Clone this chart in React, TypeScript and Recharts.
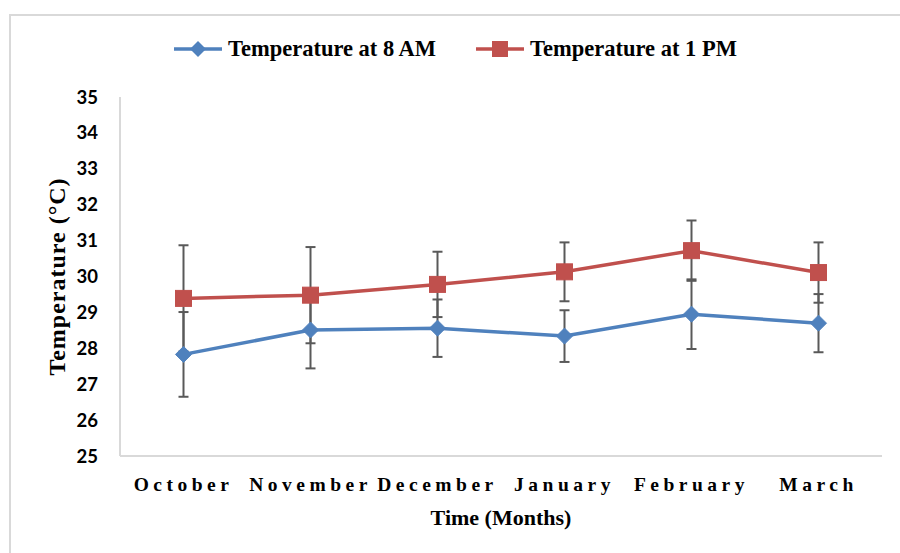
import React from 'react';
import { LineChart, Line, XAxis, YAxis, ErrorBar } from 'recharts';

const months = ['October', 'November', 'December', 'January', 'February', 'March'];
const temp8am = [27.83, 28.51, 28.56, 28.34, 28.95, 28.70];
const err8am = [1.18, 1.07, 0.8, 0.72, 0.97, 0.81];
const temp1pm = [29.39, 29.48, 29.78, 30.13, 30.72, 30.11];
const err1pm = [1.48, 1.34, 0.91, 0.82, 0.84, 0.84];
const yTicks = [25, 26, 27, 28, 29, 30, 31, 32, 33, 34, 35];

const BLUE = '#4f81bd';
const RED = '#c0504d';
const SERIF = '"Liberation Serif", "Times New Roman", serif';

const data = months.map((m, i) => ({
  month: m,
  am: temp8am[i],
  amErr: err8am[i],
  pm: temp1pm[i],
  pmErr: err1pm[i],
}));

const Diamond = (props: any) => {
  const { cx, cy } = props;
  if (cx == null || cy == null) return null;
  const r = 8;
  return (
    <polygon
      points={`${cx},${cy - r} ${cx + r},${cy} ${cx},${cy + r} ${cx - r},${cy}`}
      fill={BLUE}
      stroke={BLUE}
    />
  );
};

const Square = (props: any) => {
  const { cx, cy } = props;
  if (cx == null || cy == null) return null;
  const s = 16;
  return <rect x={cx - s / 2} y={cy - s / 2} width={s} height={s} fill={RED} stroke={RED} />;
};

const LegendContent = () => {
  const items = [
    { label: 'Temperature at 8 AM', color: BLUE, shape: 'diamond' },
    { label: 'Temperature at 1 PM', color: RED, shape: 'square' },
  ];
  return (
    <div style={{ display: 'flex', alignItems: 'center', paddingLeft: 174 }}>
      {items.map((it, i) => (
        <div key={it.label} style={{ display: 'flex', alignItems: 'center', marginRight: i === 0 ? 40 : 0 }}>
          <svg width={48} height={20}>
            <line x1={0} y1={10} x2={48} y2={10} stroke={it.color} strokeWidth={3.5} />
            {it.shape === 'diamond' ? (
              <polygon points="24,2 32,10 24,18 16,10" fill={it.color} />
            ) : (
              <rect x={16} y={2} width={16} height={16} fill={it.color} />
            )}
          </svg>
          <span
            style={{
              fontFamily: SERIF,
              fontWeight: 'bold',
              fontSize: 22.5,
              color: '#000',
              marginLeft: 6,
              whiteSpace: 'nowrap',
            }}
          >
            {it.label}
          </span>
        </div>
      ))}
    </div>
  );
};

export default function App() {
  return (
    <div style={{ position: 'absolute', left: 0, top: 0, width: 900, height: 553, background: '#fff' }}>
      <div
        style={{
          position: 'absolute',
          left: 9,
          top: 14,
          width: 900,
          height: 553,
          borderLeft: '2px solid #d9d9d9',
          borderTop: '2px solid #d9d9d9',
        }}
      />
      <div style={{ position: 'absolute', left: 0, top: 36, width: 900 }}>
        <LegendContent />
      </div>
      <div style={{ position: 'absolute', left: 0, top: 0 }}>
        <LineChart width={900} height={553} data={data} margin={{ top: 97, right: 18, bottom: 0, left: 0 }}>
          <XAxis
            dataKey="month"
            height={97}
            interval={0}
            padding={{ left: 63.5, right: 63.5 }}
            axisLine={{ stroke: '#d9d9d9', strokeWidth: 2 }}
            tickLine={false}
            tickSize={0}
            tickMargin={21}
            tick={{ fontFamily: SERIF, fontSize: 19.5, fontWeight: 'bold', fill: '#000', letterSpacing: 4.5 }}
            label={{
              content: (p: any) => {
                const vb = p.viewBox;
                return (
                  <text
                    x={vb.x + vb.width / 2}
                    y={vb.y + 69}
                    textAnchor="middle"
                    fontFamily={SERIF}
                    fontWeight="bold"
                    fontSize={22}
                    fill="#000"
                  >
                    Time (Months)
                  </text>
                );
              },
            }}
          />
          <YAxis
            width={120}
            domain={[25, 35]}
            ticks={yTicks}
            interval={0}
            axisLine={{ stroke: '#d9d9d9', strokeWidth: 2 }}
            tickLine={false}
            tickSize={0}
            tickMargin={22}
            tick={{ fontFamily: 'Lato, "Open Sans", sans-serif', fontSize: 18.5, fontWeight: 'bold', fill: '#000' }}
            label={{
              content: (p: any) => {
                const vb = p.viewBox;
                const cx = vb.x + 57;
                const cy = vb.y + vb.height / 2;
                return (
                  <text
                    x={cx}
                    y={cy}
                    transform={`rotate(-90, ${cx}, ${cy})`}
                    textAnchor="middle"
                    dominantBaseline="central"
                    fontFamily={SERIF}
                    fontWeight="bold"
                    fontSize={24}
                    letterSpacing={1}
                    fill="#000"
                  >
                    Temperature (°C)
                  </text>
                );
              },
            }}
          />
          <Line
            type="linear"
            dataKey="am"
            name="Temperature at 8 AM"
            stroke={BLUE}
            strokeWidth={3.5}
            dot={<Diamond />}
            activeDot={false}
            isAnimationActive={false}
          >
            <ErrorBar dataKey="amErr" width={5} stroke="#595959" strokeWidth={2} direction="y" />
          </Line>
          <Line
            type="linear"
            dataKey="pm"
            name="Temperature at 1 PM"
            stroke={RED}
            strokeWidth={3.5}
            dot={<Square />}
            activeDot={false}
            isAnimationActive={false}
          >
            <ErrorBar dataKey="pmErr" width={5} stroke="#595959" strokeWidth={2} direction="y" />
          </Line>
        </LineChart>
      </div>
    </div>
  );
}
